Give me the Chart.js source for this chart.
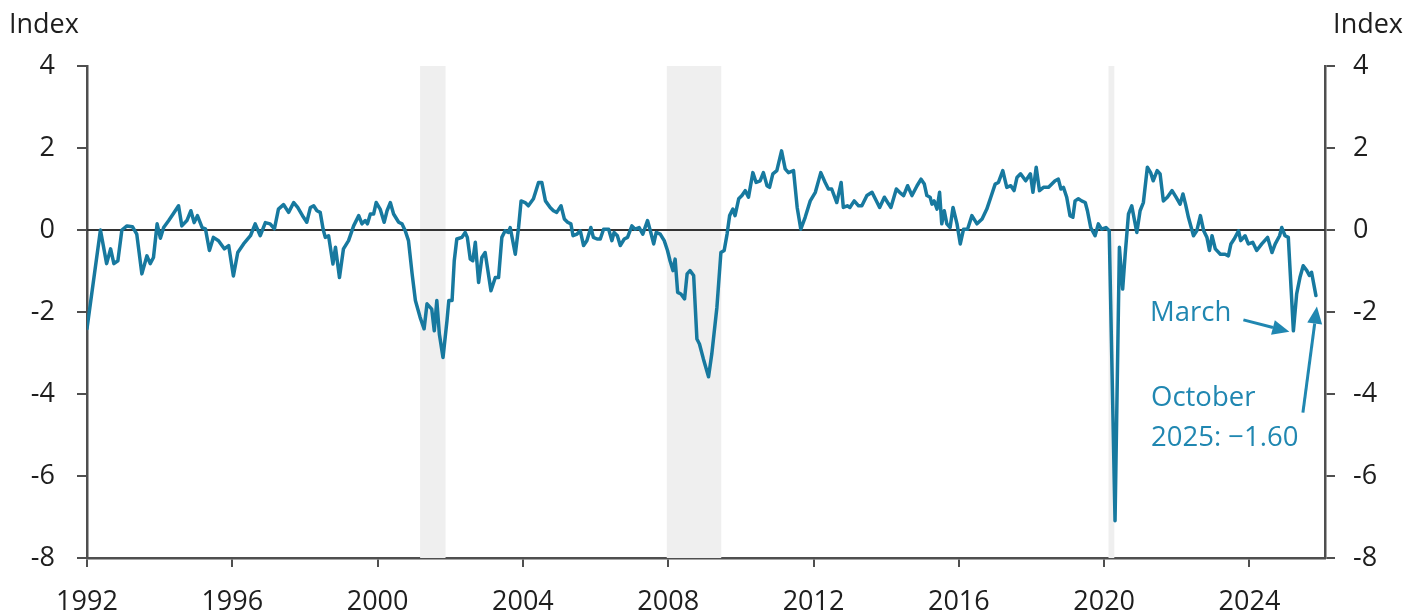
<!DOCTYPE html>
<html><head><meta charset="utf-8">
<script src="https://cdn.jsdelivr.net/npm/chart.js@4.4.1/dist/chart.umd.min.js"></script>
<style>html,body{margin:0;padding:0;background:#fff;}#wrap{width:1405px;height:612px;position:relative;}canvas{display:block;}</style>
</head><body><div id="wrap"><canvas id="c" width="1405" height="612"></canvas></div>
<script>
// ---- data (decimal year, index value) ----
const dates = [
1992.0,1992.37,1992.54,1992.65,1992.74,1992.85,1992.96,1993.1,1993.25,1993.37,1993.51,1993.65,1993.74,1993.83,1993.93,
1994.02,1994.11,1994.25,1994.38,1994.52,1994.61,1994.75,1994.86,1994.95,1995.04,1995.17,1995.26,1995.37,1995.48,1995.62,
1995.78,1995.9,1996.03,1996.15,1996.31,1996.5,1996.63,1996.77,1996.91,1997.04,1997.16,1997.27,1997.41,1997.55,1997.69,
1997.8,1997.96,1998.05,1998.15,1998.24,1998.33,1998.42,1998.5,1998.56,1998.65,1998.77,1998.84,1998.95,1999.06,1999.2,
1999.34,1999.48,1999.57,1999.66,1999.72,1999.8,1999.89,1999.96,2000.07,2000.18,2000.26,2000.35,2000.44,2000.58,2000.67,
2000.76,2000.85,2000.95,2001.04,2001.17,2001.28,2001.36,2001.49,2001.56,2001.63,2001.7,2001.8,2001.91,2001.96,2002.05,
2002.11,2002.18,2002.32,2002.41,2002.47,2002.55,2002.62,2002.69,2002.78,2002.87,2002.96,2003.12,2003.24,2003.33,2003.42,
2003.51,2003.6,2003.65,2003.79,2003.88,2003.95,2004.06,2004.15,2004.29,2004.43,2004.52,2004.62,2004.75,2004.84,2004.93,
2005.05,2005.14,2005.23,2005.32,2005.38,2005.49,2005.58,2005.67,2005.76,2005.87,2005.94,2006.04,2006.13,2006.22,2006.36,
2006.45,2006.51,2006.6,2006.68,2006.79,2006.88,2007.0,2007.09,2007.2,2007.3,2007.43,2007.52,2007.6,2007.67,2007.78,
2007.89,2007.98,2008.05,2008.13,2008.19,2008.26,2008.35,2008.45,2008.52,2008.6,2008.7,2008.79,2008.86,2008.97,2009.11,
2009.2,2009.34,2009.45,2009.54,2009.62,2009.69,2009.78,2009.84,2009.94,2010.03,2010.12,2010.21,2010.33,2010.42,2010.53,
2010.62,2010.72,2010.79,2010.88,2010.99,2011.12,2011.22,2011.31,2011.45,2011.55,2011.65,2011.77,2011.91,2012.05,2012.2,
2012.32,2012.41,2012.5,2012.64,2012.76,2012.82,2012.93,2013.0,2013.12,2013.24,2013.33,2013.47,2013.61,2013.7,2013.82,
2013.95,2014.04,2014.13,2014.28,2014.37,2014.48,2014.59,2014.71,2014.85,2014.96,2015.05,2015.12,2015.21,2015.26,2015.32,
2015.4,2015.47,2015.53,2015.6,2015.67,2015.76,2015.84,2015.95,2016.04,2016.13,2016.24,2016.36,2016.5,2016.64,2016.77,
2016.88,2017.0,2017.09,2017.21,2017.32,2017.43,2017.52,2017.6,2017.7,2017.84,2017.97,2018.04,2018.13,2018.22,2018.33,
2018.47,2018.56,2018.65,2018.74,2018.81,2018.88,2018.97,2019.06,2019.14,2019.2,2019.29,2019.38,2019.48,2019.54,2019.63,
2019.75,2019.84,2019.93,2020.05,2020.14,2020.3,2020.42,2020.51,2020.58,2020.67,2020.76,2020.9,2020.99,2021.08,2021.19,
2021.28,2021.35,2021.46,2021.54,2021.63,2021.74,2021.87,2021.98,2022.09,2022.17,2022.24,2022.32,2022.46,2022.55,2022.65,
2022.74,2022.83,2022.9,2022.97,2023.06,2023.2,2023.33,2023.42,2023.49,2023.58,2023.7,2023.76,2023.88,2023.97,2024.09,
2024.2,2024.34,2024.5,2024.62,2024.71,2024.83,2024.89,2024.98,2025.07,2025.21,2025.3,2025.39,2025.48,2025.58,2025.65,
2025.71,2025.83
];
const values = [
-2.4,0.0,-0.82,-0.46,-0.82,-0.75,0.0,0.1,0.08,-0.1,-1.07,-0.63,-0.82,-0.67,0.15,
-0.2,0.06,0.23,0.4,0.59,0.1,0.23,0.47,0.18,0.35,0.06,0.03,-0.5,-0.18,-0.26,
-0.46,-0.38,-1.12,-0.55,-0.34,-0.14,0.15,-0.14,0.18,0.15,0.03,0.51,0.62,0.43,0.67,
0.55,0.31,0.19,0.55,0.59,0.47,0.43,0.02,-0.18,-0.14,-0.83,-0.42,-1.16,-0.46,-0.26,
0.1,0.35,0.15,0.23,0.15,0.39,0.39,0.67,0.51,0.19,0.47,0.67,0.39,0.19,0.15,
-0.02,-0.26,-1.07,-1.72,-2.13,-2.41,-1.8,-1.93,-2.46,-1.72,-2.54,-3.11,-2.21,-1.72,-1.72,
-0.75,-0.22,-0.18,-0.06,-0.18,-0.71,-0.75,-0.3,-1.28,-0.67,-0.55,-1.48,-1.16,-1.16,-0.18,
-0.02,-0.06,0.06,-0.59,0.06,0.71,0.67,0.59,0.76,1.16,1.16,0.71,0.55,0.47,0.43,
0.59,0.27,0.19,0.15,-0.14,-0.1,-0.02,-0.38,-0.26,0.06,-0.18,-0.22,-0.22,0.02,0.02,
-0.26,-0.06,-0.14,-0.38,-0.22,-0.18,0.1,0.02,0.06,-0.1,0.23,-0.06,-0.34,-0.06,-0.1,
-0.26,-0.5,-0.75,-0.99,-0.71,-1.52,-1.56,-1.68,-1.07,-0.99,-1.11,-2.66,-2.78,-3.15,-3.58,
-3.02,-1.89,-0.55,-0.5,-0.1,0.35,0.51,0.35,0.76,0.84,0.96,0.8,1.4,1.16,1.2,
1.4,1.08,1.04,1.37,1.45,1.93,1.49,1.4,1.45,0.55,0.02,0.31,0.71,0.92,1.4,
1.16,1.0,1.0,0.67,1.16,0.55,0.59,0.55,0.71,0.59,0.59,0.84,0.92,0.76,0.55,
0.8,0.67,0.55,1.0,0.92,0.84,1.08,0.84,1.08,1.24,1.12,0.84,0.8,0.63,0.71,
0.51,0.92,0.15,0.47,0.15,0.06,0.55,0.15,-0.34,0.02,0.02,0.35,0.15,0.27,0.51,
0.8,1.12,1.16,1.45,1.04,1.08,0.96,1.28,1.37,1.2,1.37,0.92,1.53,0.96,1.04,
1.04,1.12,1.2,1.24,1.0,1.04,0.8,0.35,0.31,0.71,0.76,0.71,0.67,0.47,0.06,
-0.14,0.15,0.02,0.06,-0.02,-7.09,-0.42,-1.44,-0.59,0.39,0.59,-0.06,0.47,0.67,1.53,
1.4,1.2,1.45,1.37,0.71,0.8,0.96,0.8,0.63,0.88,0.63,0.31,-0.14,-0.02,0.35,
-0.02,-0.18,-0.5,-0.14,-0.46,-0.59,-0.59,-0.63,-0.34,-0.22,-0.02,-0.26,-0.14,-0.34,-0.3,
-0.5,-0.34,-0.18,-0.55,-0.34,-0.14,0.06,-0.14,-0.18,-2.46,-1.56,-1.16,-0.87,-0.99,-1.11,
-1.03,-1.60
];
const recessionStarts = [2001.17, 2007.96, 2020.12];
const recessionEnds   = [2001.87, 2009.46, 2020.28];
const xTickYears = [1992, 1996, 2000, 2004, 2008, 2012, 2016, 2020, 2024];
const yTickValues = [-8, -6, -4, -2, 0, 2, 4];
const axisTitle = 'Index';
const marchLabel = 'March';
const octoberLabel = ['October', '2025: \u22121.60'];

// ---- styles ----
const FONT = '"Open Sans", "Liberation Sans", sans-serif';
const LINE_COLOR = '#17799f';
const NOTE_COLOR = '#2087b1';
const AXIS_COLOR = '#4f4f4f';
const TEXT_COLOR = '#1e1e1e';

const pts = dates.map((d, i) => ({x: d, y: values[i]}));

function arrow(ctx, x1, y1, x2, y2) {
  const ang = Math.atan2(y2 - y1, x2 - x1);
  const hl = 17, hw = 7.5;
  const bx = x2 - hl * Math.cos(ang), by = y2 - hl * Math.sin(ang);
  ctx.beginPath();
  ctx.moveTo(x1, y1);
  ctx.lineTo(bx, by);
  ctx.stroke();
  ctx.beginPath();
  ctx.moveTo(x2, y2);
  ctx.lineTo(bx + hw * Math.sin(ang), by - hw * Math.cos(ang));
  ctx.lineTo(bx - hw * Math.sin(ang), by + hw * Math.cos(ang));
  ctx.closePath();
  ctx.fill();
}

const deco = {
  id: 'deco',
  beforeDatasetsDraw(chart) {
    const {ctx, chartArea: a, scales: {x, y}} = chart;
    ctx.save();
    ctx.fillStyle = '#efefef';
    recessionStarts.forEach((s, i) => {
      const x0 = x.getPixelForValue(s), x1 = x.getPixelForValue(recessionEnds[i]);
      ctx.fillRect(x0, a.top, x1 - x0, a.bottom - a.top);
    });
    const y0 = Math.round(y.getPixelForValue(0));
    ctx.strokeStyle = '#333333';
    ctx.lineWidth = 2;
    ctx.beginPath();
    ctx.moveTo(a.left, y0);
    ctx.lineTo(a.right, y0);
    ctx.stroke();
    ctx.restore();
  },
  afterDraw(chart) {
    const {ctx, scales: {x, y}} = chart;
    ctx.save();
    ctx.font = '27px ' + FONT;
    ctx.fillStyle = TEXT_COLOR;
    ctx.textBaseline = 'middle';
    ctx.textAlign = 'left';
    ctx.fillText(axisTitle, 9, 25);
    ctx.textAlign = 'right';
    ctx.fillText(axisTitle, 1403, 25);

    ctx.fillStyle = NOTE_COLOR;
    ctx.strokeStyle = NOTE_COLOR;
    ctx.lineWidth = 3;
    ctx.textAlign = 'left';
    ctx.font = '27.5px ' + FONT;
    ctx.fillText(marchLabel, 1150, 313);
    ctx.fillText(octoberLabel[0], 1151, 398);
    ctx.fillText(octoberLabel[1], 1151, 438);

    // March trough arrow
    let mi = dates.findIndex(d => d > 2025);
    values.forEach((v, i) => { if (dates[i] > 2025 && v < values[mi]) mi = i; });
    const mx = x.getPixelForValue(dates[mi]), my = y.getPixelForValue(values[mi]);
    arrow(ctx, mx - 50, my - 11, mx - 4, my + 1);
    // Latest value arrow
    const li = values.length - 1;
    const lx = x.getPixelForValue(dates[li]), ly = y.getPixelForValue(values[li]);
    arrow(ctx, lx - 13, ly + 117, lx + 1, ly + 11);
    ctx.restore();
  }
};

new Chart(document.getElementById('c'), {
  type: 'line',
  data: {
    datasets: [{
      data: pts,
      borderColor: LINE_COLOR,
      borderWidth: 3.5,
      pointRadius: 0,
      tension: 0,
      borderJoinStyle: 'round',
      borderCapStyle: 'round',
      fill: false,
      yAxisID: 'y'
    }]
  },
  options: {
    responsive: false,
    devicePixelRatio: 1,
    animation: false,
    events: [],
    layout: {padding: {top: 66, left: 0, right: 0, bottom: 0}},
    plugins: {legend: {display: false}, tooltip: {enabled: false}},
    scales: {
      x: {
        type: 'linear',
        min: 1992,
        max: 2026.08,
        afterBuildTicks: s => { s.ticks = xTickYears.map(v => ({value: v})); },
        afterFit: s => { s.height = 54; },
        grid: {drawOnChartArea: false, drawTicks: true, tickLength: 9, color: AXIS_COLOR, lineWidth: 2},
        border: {display: true, color: AXIS_COLOR, width: 2.5},
        ticks: {autoSkip: false, maxRotation: 0, padding: 19, color: TEXT_COLOR,
                font: {family: FONT, size: 27}, callback: v => String(v)}
      },
      y: {
        position: 'left',
        min: -8, max: 4,
        afterBuildTicks: s => { s.ticks = yTickValues.map(v => ({value: v})); },
        afterFit: s => { s.width = 87; },
        grid: {drawOnChartArea: false, drawTicks: true, tickLength: 10, color: AXIS_COLOR, lineWidth: 2},
        border: {display: true, color: AXIS_COLOR, width: 2.5},
        ticks: {padding: 22, color: TEXT_COLOR, font: {family: FONT, size: 27}, callback: v => String(v)}
      },
      y2: {
        position: 'right',
        min: -8, max: 4,
        afterBuildTicks: s => { s.ticks = yTickValues.map(v => ({value: v})); },
        afterFit: s => { s.width = 80; },
        grid: {drawOnChartArea: false, drawTicks: true, tickLength: 10, color: AXIS_COLOR, lineWidth: 2},
        border: {display: true, color: AXIS_COLOR, width: 2.5},
        ticks: {padding: 18, color: TEXT_COLOR, font: {family: FONT, size: 27}, callback: v => String(v)}
      }
    }
  },
  plugins: [deco]
});
</script>
</body></html>
